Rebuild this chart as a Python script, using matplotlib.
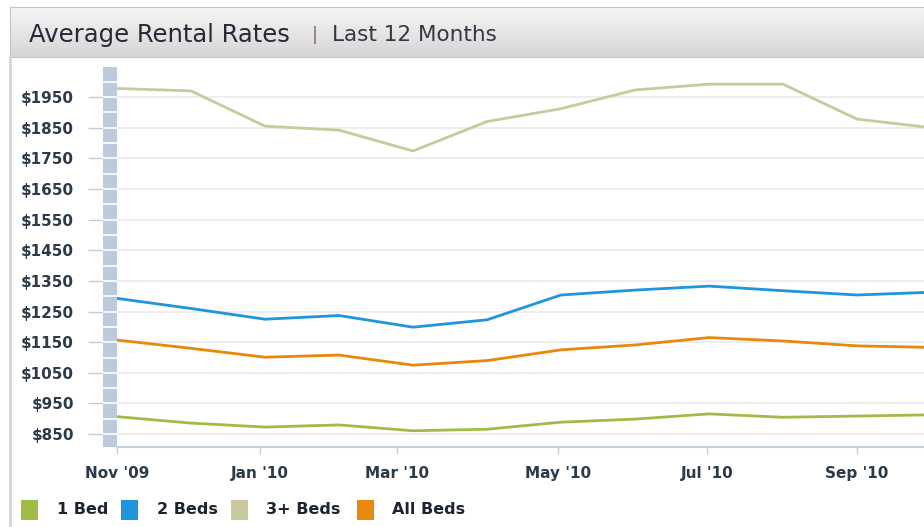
import numpy as np
import matplotlib.pyplot as plt
from matplotlib.colors import LinearSegmentedColormap
from matplotlib.patches import Rectangle
from matplotlib.lines import Line2D

# monthly average rents, Nov '09 .. Oct '10
months = ["Nov '09", "Dec '09", "Jan '10", "Feb '10", "Mar '10", "Apr '10",
          "May '10", "Jun '10", "Jul '10", "Aug '10", "Sep '10", "Oct '10"]
one_bed = [907, 886, 873, 880, 861, 866, 889, 899, 916, 905, 909, 913]
two_beds = [1293, 1260, 1225, 1237, 1199, 1223, 1304, 1320, 1333, 1318, 1304, 1313]
three_beds = [1978, 1970, 1855, 1842, 1774, 1870, 1912, 1973, 1992, 1992, 1878, 1850]
all_beds = [1157, 1130, 1101, 1108, 1075, 1090, 1125, 1141, 1165, 1154, 1138, 1133]

series_names = ["1 Bed", "2 Beds", "3+ Beds", "All Beds"]
series_colors = ["#9fbc48", "#1f95dc", "#c9c99c", "#e8890c"]

tick_labels = ["Nov '09", "Jan '10", "Mar '10", "May '10", "Jul '10", "Sep '10"]
y_ticks = list(range(850, 2000, 100))

W, H = 924, 527
fig = plt.figure(figsize=(W / 100, H / 100), dpi=100)
fig.patch.set_facecolor("white")


def fx(px):
    return px / W


def fy(py):
    return 1 - py / H


# header bar with gradient
hdr = fig.add_axes([fx(10), fy(57), fx(914), 50 / H])
grad = np.linspace(0, 1, 100).reshape(-1, 1)
hdr.imshow(grad, aspect="auto", extent=[0, 1, 0, 1],
           cmap=LinearSegmentedColormap.from_list("hdr", ["#f6f6f6", "#d6d6d6"]))
hdr.set_xlim(0, 1)
hdr.set_ylim(0, 1)
for s in hdr.spines.values():
    s.set_color("#c4c4c4")
hdr.set_xticks([])
hdr.set_yticks([])
fig.text(fx(29), fy(35), "Average Rental Rates", fontsize=17.5, color="#262a36", va="center")
fig.text(fx(312), fy(35), "|", fontsize=13, color="#8a6a58", va="center")
fig.text(fx(332), fy(35), "Last 12 Months", fontsize=15.5, color="#333844", va="center")

fig.add_artist(Line2D([fx(10), fx(10)], [0, fy(57)], transform=fig.transFigure,
                      color="#d6d6d6", lw=2))

# main plot
bottom, top = fy(447), fy(67)
ax = fig.add_axes([fx(117), bottom, 1 - fx(117), top - bottom])
x = np.arange(len(months))
for vals, col in [(three_beds, series_colors[2]), (two_beds, series_colors[1]),
                  (all_beds, series_colors[3]), (one_bed, series_colors[0])]:
    ax.plot(x, vals, color=col, lw=2.0, solid_joinstyle="round", zorder=3)

ax.set_xlim(0, 10.905)
ax.set_ylim(808, 2048)
ax.set_yticks(y_ticks)
ax.tick_params(axis="y", length=0, labelleft=False)
ax.grid(axis="y", color="#ebebeb", lw=1.2)
ax.set_axisbelow(True)
ax.set_xticks([0, 1.93, 3.78, 5.96, 7.97, 10.0])
ax.set_xticklabels(tick_labels)
ax.tick_params(axis="x", length=5, width=1, color="#c3d1df", pad=9,
               labelsize=11, labelcolor="#2c3a4a")
for lab in ax.get_xticklabels():
    lab.set_fontweight("bold")
for k in ["top", "right", "left"]:
    ax.spines[k].set_visible(False)
ax.spines["bottom"].set_color("#c3d1df")
ax.spines["bottom"].set_linewidth(1.5)

# blue-gray wall on the left
bar = fig.add_axes([fx(103), bottom, fx(14), top - bottom], sharey=ax)
bar.set_facecolor("#bccbdb")
bar.set_xlim(0, 1)
for yv in range(800, 2050, 50):
    bar.axhline(yv, color="white", lw=1.2)
for s in bar.spines.values():
    s.set_visible(False)
bar.set_xticks([])
bar.set_yticks(y_ticks)
bar.set_yticklabels([f"${v}" for v in y_ticks])
bar.tick_params(axis="y", length=11, width=1, color="#c0cedc", pad=10,
                labelsize=11, labelcolor="#2c3a4a")
for lab in bar.get_yticklabels():
    lab.set_fontweight("bold")

# legend, laid out like the original widget
sq_x = [21, 121, 231, 357]
txt_x = [57, 157, 266, 392]
for name, col, sx, tx in zip(series_names, series_colors, sq_x, txt_x):
    fig.add_artist(Rectangle((fx(sx), fy(520)), fx(17), 20 / H, transform=fig.transFigure,
                             facecolor=col, edgecolor="none"))
    fig.text(fx(tx), fy(510), name, fontsize=11.5, fontweight="bold", color="#1c2430",
             va="center")

fig.savefig("out.png", dpi=100)
